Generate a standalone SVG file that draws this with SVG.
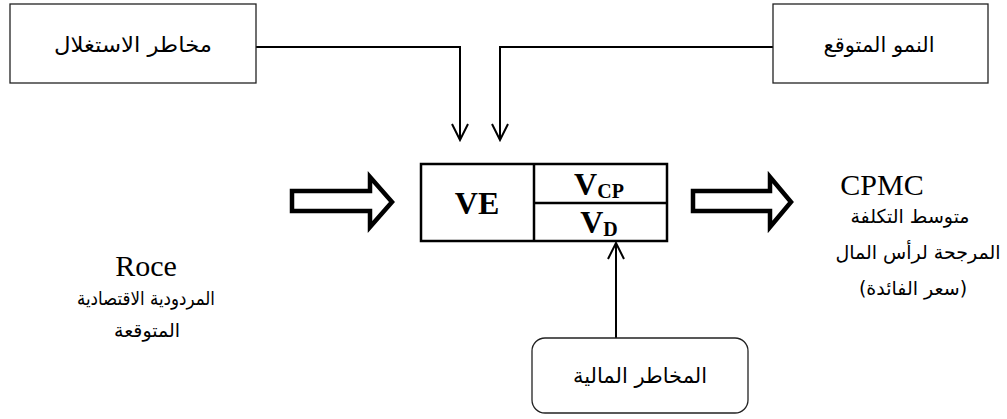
<svg xmlns="http://www.w3.org/2000/svg" width="1007" height="419" viewBox="0 0 1007 419">
  <style>
    .box { fill: #fff; stroke: #222; stroke-width: 1.3; }
    .cell { fill: #fff; stroke: #000; stroke-width: 2.5; }
    .wire { fill: none; stroke: #000; stroke-width: 2; }
    .block { fill: #fff; stroke: #000; stroke-width: 4.5; stroke-linejoin: miter; }
    .ar { font-family: "DejaVu Sans", sans-serif; font-size: 21px; fill: #000; text-anchor: middle; direction: rtl; }
    .sm { font-size: 19px; }
    .lat { font-family: "Liberation Serif", serif; font-size: 30px; fill: #000; text-anchor: middle; }
    .bold { font-family: "Liberation Serif", serif; font-weight: bold; fill: #000; text-anchor: middle; }
  </style>
  <defs>
    <marker id="open" viewBox="0 0 20 20" refX="18" refY="10" markerWidth="20" markerHeight="20" markerUnits="userSpaceOnUse" orient="auto">
      <path d="M2,2 L18,10 L2,18" fill="none" stroke="#000" stroke-width="2"/>
    </marker>
  </defs>

  <!-- connectors -->
  <g id="connectors">
    <path class="wire" d="M256,47 H460 V140" marker-end="url(#open)"/>
    <path class="wire" d="M773,47 H500 V140" marker-end="url(#open)"/>
    <path class="wire" d="M616,338 V243" marker-end="url(#open)"/>
    <path class="block" d="M292,191 H370 V177 L392,202 L370,227 V211 H292 Z"/>
    <path class="block" d="M693,191 H770 V177 L791,202 L770,227 V211 H693 Z"/>
  </g>

  <!-- operating risk -->
  <g id="operating-risk">
    <rect class="box" x="10" y="4" width="246" height="79"/>
    <text class="ar" x="133" y="52" textLength="158" lengthAdjust="spacingAndGlyphs">مخاطر الاستغلال</text>
  </g>

  <!-- expected growth -->
  <g id="expected-growth">
    <rect class="box" x="773" y="4" width="215" height="79"/>
    <text class="ar" x="879" y="52">النمو المتوقع</text>
  </g>

  <!-- enterprise value -->
  <g id="value">
    <rect class="cell" x="421" y="164" width="246" height="77"/>
    <line class="cell" x1="534" y1="164" x2="534" y2="241"/>
    <line class="cell" x1="534" y1="203" x2="667" y2="203"/>
    <text class="bold" x="477" y="214" font-size="32">VE</text>
    <text class="bold" x="599" y="195" font-size="32">V<tspan font-size="20" dy="3">CP</tspan></text>
    <text class="bold" x="599" y="233" font-size="32">V<tspan font-size="20" dy="3">D</tspan></text>
  </g>

  <!-- expected return -->
  <g id="roce">
    <text class="lat" x="146" y="276">Roce</text>
    <text class="ar sm" x="146" y="305" textLength="138" lengthAdjust="spacingAndGlyphs">المردودية الاقتصادية</text>
    <text class="ar sm" x="147" y="337">المتوقعة</text>
  </g>

  <!-- cost of capital -->
  <g id="cpmc">
    <text class="lat" x="882" y="195">CPMC</text>
    <text class="ar sm" x="910" y="223">متوسط التكلفة</text>
    <text class="ar sm" x="918" y="259">المرجحة لرأس المال</text>
    <text class="ar sm" x="913" y="295">(سعر الفائدة)</text>
  </g>

  <!-- financial risk -->
  <g id="financial-risk">
    <rect class="box" x="532" y="338" width="216" height="75" rx="13"/>
    <text class="ar" x="640" y="383">المخاطر المالية</text>
  </g>
</svg>
